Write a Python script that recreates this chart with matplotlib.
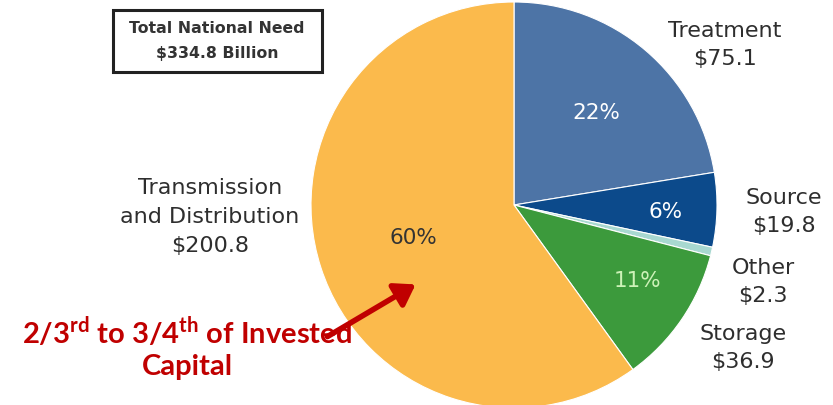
import matplotlib
matplotlib.use("Agg")
import matplotlib.pyplot as plt
from matplotlib.patches import FancyArrowPatch, Rectangle

categories = ["Treatment", "Source", "Other", "Storage", "Transmission\nand Distribution"]
values = [75.1, 19.8, 2.3, 36.9, 200.8]
pct_labels = ["22%", "6%", "", "11%", "60%"]
total_label = "Total National Need\n$334.8 Billion"
colors = ["#4D74A6", "#0C4A8B", "#A8D8D0", "#3C9A3C", "#FBBA4C"]

plt.rcParams['mathtext.fontset'] = 'custom'
plt.rcParams['mathtext.bf'] = 'Lato:bold'
plt.rcParams['mathtext.rm'] = 'Lato:bold'

fig = plt.figure(figsize=(8.33, 4.05), dpi=100)
W, H = 833, 405
cx, cy, r = 514, 205, 203
ax = fig.add_axes([(cx - r) / W, (H - cy - r) / H, 2 * r / W, 2 * r / H])
wedges, _ = ax.pie(values, colors=colors, startangle=90, counterclock=False,
                   radius=1.0, wedgeprops=dict(linewidth=0.8, edgecolor="white"))
ax.set_xlim(-1, 1)
ax.set_ylim(-1, 1)
ax.set_aspect("equal")
ax.axis("off")

# percentage labels inside
pct_pos = [(596, 113), (666, 212), None, (637, 281), (413, 238)]
pct_cols = ["white", "white", None, "#CDF2B8", "#333333"]
for lab, pos, col in zip(pct_labels, pct_pos, pct_cols):
    if pos is None:
        continue
    fig.text(pos[0] / W, 1 - pos[1] / H, lab, color=col, fontsize=15.5,
             ha="center", va="center", family="DejaVu Sans")

# category labels
lab_pos = [(725, 45), (784, 212), (763, 282), (743, 348), (210, 217)]
for cat, v, pos in zip(categories, values, lab_pos):
    fig.text(pos[0] / W, 1 - pos[1] / H, f"{cat}\n${v:.1f}", color="#2E2E2E",
             fontsize=16, ha="center", va="center", linespacing=1.55,
             family="DejaVu Sans")

# total box
fig.patches.append(Rectangle((113 / W, 1 - 72 / H), 209 / W, 62 / H,
                             transform=fig.transFigure, facecolor="white",
                             edgecolor="#222222", linewidth=2.2))
fig.text(217 / W, 1 - 41 / H, total_label, fontsize=11.3, fontweight="bold",
         color="#333333", ha="center", va="center", linespacing=1.9,
         family="DejaVu Sans")

# red annotation
fig.text(187 / W, 1 - 347 / H,
         "2/3$^{\\mathbf{rd}}$ to 3/4$^{\\mathbf{th}}$ of Invested\nCapital",
         color="#C00000", fontsize=21, fontweight="bold", family="Lato",
         ha="center", va="center", linespacing=1.25)

arrow = FancyArrowPatch((325 / W, 1 - 338 / H), (418 / W, 1 - 283 / H),
                        transform=fig.transFigure, arrowstyle="-|>,head_length=12,head_width=8",
                        color="#C00000", linewidth=4, mutation_scale=1)
fig.patches.append(arrow)

fig.savefig("out.png", dpi=100)
